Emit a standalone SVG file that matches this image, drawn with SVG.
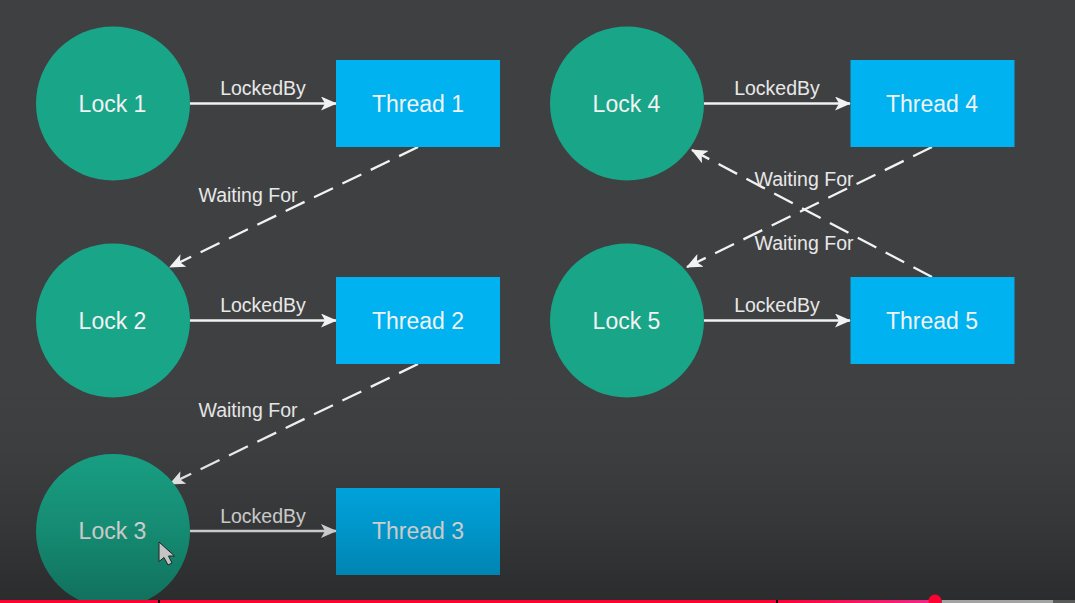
<svg xmlns="http://www.w3.org/2000/svg" width="1075" height="603" viewBox="0 0 1075 603">
<style>
.lock{fill:#19a588}
.thread{fill:#00b2f0}
.n{font-family:"Liberation Sans",Arial,sans-serif;font-size:23px;fill:#f2f2f2;text-anchor:middle}
.l{font-family:"Liberation Sans",Arial,sans-serif;font-size:19.500px;fill:#e8e8e8;text-anchor:middle}
.c{fill:none;stroke:#f2f2f2;stroke-width:2.300}
.d{stroke-dasharray:21 10.500}
</style>
<defs>
<marker id="a" viewBox="0 0 16 14" refX="15" refY="7" markerWidth="16" markerHeight="14" markerUnits="userSpaceOnUse" orient="auto">
<path d="M0 0L16 7L0 14L4 7Z" fill="#f2f2f2"/>
</marker>
<linearGradient id="shade" x1="0" y1="0" x2="0" y2="1">
<stop offset="0" stop-color="#000" stop-opacity="0"/>
<stop offset="0.3" stop-color="#000" stop-opacity="0.03"/>
<stop offset="0.65" stop-color="#000" stop-opacity="0.15"/>
<stop offset="1" stop-color="#000" stop-opacity="0.32"/>
</linearGradient>
<linearGradient id="pink" x1="0" y1="0" x2="1" y2="0">
<stop offset="0" stop-color="#ff0033"/>
<stop offset="1" stop-color="#f0288a"/>
</linearGradient>
</defs>
<rect width="1075" height="603" fill="#3f4042"/>
<g id="connectors">
<path class="c" marker-end="url(#a)" d="M190 103.500H336"/>
<path class="c" marker-end="url(#a)" d="M190 320.500H336"/>
<path class="c" marker-end="url(#a)" d="M190 531H336"/>
<path class="c" marker-end="url(#a)" d="M704 103.500H850"/>
<path class="c" marker-end="url(#a)" d="M704 320.500H850"/>
<path class="c d" marker-end="url(#a)" d="M418 147L170 267"/>
<path class="c d" marker-end="url(#a)" d="M418 364L170 484"/>
<path class="c d" marker-end="url(#a)" d="M932 147L687 267"/>
<path class="c d" marker-end="url(#a)" d="M932 277L692 150"/>
</g>
<g id="lock1"><circle class="lock" cx="113" cy="103.500" r="77"/><text class="n" x="112.500" y="111.500">Lock 1</text></g>
<g id="thread1"><rect class="thread" x="336" y="60" width="164" height="87"/><text class="n" x="418" y="111.500">Thread 1</text></g>
<g id="lock2"><circle class="lock" cx="113" cy="320.500" r="77"/><text class="n" x="112.500" y="328.500">Lock 2</text></g>
<g id="thread2"><rect class="thread" x="336" y="277" width="164" height="87"/><text class="n" x="418" y="328.500">Thread 2</text></g>
<g id="lock3"><circle class="lock" cx="113" cy="531" r="77"/><text class="n" x="112.500" y="539">Lock 3</text></g>
<g id="thread3"><rect class="thread" x="336" y="488" width="164" height="87"/><text class="n" x="418" y="539">Thread 3</text></g>
<g id="lock4"><circle class="lock" cx="627" cy="103.500" r="77"/><text class="n" x="626.500" y="111.500">Lock 4</text></g>
<g id="thread4"><rect class="thread" x="850.500" y="60" width="164" height="87"/><text class="n" x="932" y="111.500">Thread 4</text></g>
<g id="lock5"><circle class="lock" cx="627" cy="320.500" r="77"/><text class="n" x="626.500" y="328.500">Lock 5</text></g>
<g id="thread5"><rect class="thread" x="850.500" y="277" width="164" height="87"/><text class="n" x="932" y="328.500">Thread 5</text></g>
<g id="labels">
<text class="l" x="263" y="95">LockedBy</text>
<text class="l" x="263" y="312">LockedBy</text>
<text class="l" x="263" y="523">LockedBy</text>
<text class="l" x="777" y="95">LockedBy</text>
<text class="l" x="777" y="312">LockedBy</text>
<text class="l" x="248" y="202">Waiting For</text>
<text class="l" x="248" y="417">Waiting For</text>
<text class="l" x="804" y="186">Waiting For</text>
<text class="l" x="804" y="250">Waiting For</text>
</g>
<rect x="0" y="380" width="1075" height="223" fill="url(#shade)"/>
<path d="M159 542L159 561.500L164 557.500L168 565L172 563L168.500 556L174.500 556Z" fill="#c4c4c4" stroke="#222" stroke-width="1"/>
<g id="progress">
<rect x="0" y="600" width="1075" height="3" fill="#5a5a5a"/>
<rect x="942" y="600" width="111" height="3" fill="#a3a3a3"/>
<rect x="0" y="600" width="778" height="3" fill="#ff0033"/>
<rect x="778" y="600" width="157" height="3" fill="url(#pink)"/>
<rect x="158" y="600" width="2" height="3" fill="#111"/>
<rect x="776" y="600" width="2" height="3" fill="#111"/>
<circle cx="935" cy="601" r="6.500" fill="#ff0033"/>
</g>
</svg>
